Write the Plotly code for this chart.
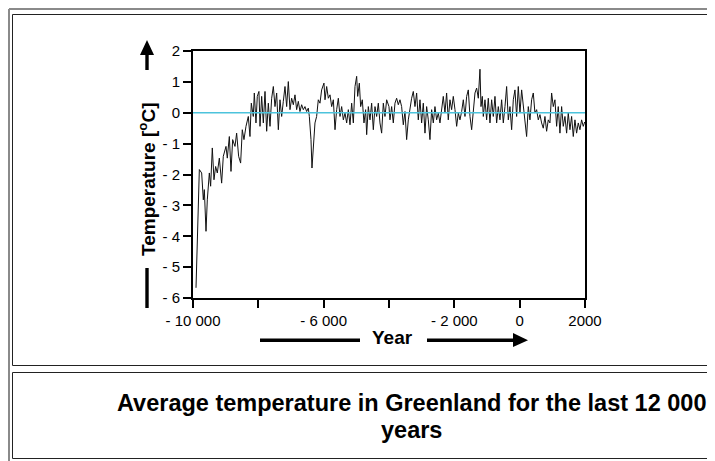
import plotly.graph_objects as go

# ---- data ----
years = [
    -9908, -9868, -9806, -9735, -9684, -9653, -9602, -9562, -9500, -9460,
    -9409, -9358, -9307, -9256, -9194, -9123, -9072, -8990, -8950, -8888,
    -8837, -8786, -8715, -8664, -8603, -8542, -8491, -8440, -8378, -8307,
    -8256, -8215, -8154, -8123, -8072, -8032, -7981,
    -7949, -7898, -7847, -7796, -7745, -7694, -7643, -7592, -7541, -7490,
    -7439, -7388, -7337, -7286, -7235, -7184, -7133, -7082, -7031, -6980,
    -6929, -6878, -6827, -6776, -6725, -6674, -6623, -6572, -6521, -6470,
    -6439, -6388, -6358, -6317, -6266, -6215, -6164, -6113, -6062, -5991,
    -5959, -5908, -5857, -5806, -5755, -5704, -5653, -5602, -5551, -5500,
    -5449, -5398, -5347, -5296, -5245, -5194, -5143, -5092, -5041, -4990,
    -4959, -4908, -4868, -4817, -4766, -4715, -4684, -4633, -4582, -4531,
    -4480, -4429, -4378, -4327, -4276, -4225, -4174, -4123, -4072, -4001,
    -3970, -3919, -3868, -3817, -3766, -3715, -3664, -3613, -3562, -3511,
    -3460, -3409, -3358, -3307, -3256, -3205, -3154, -3103, -3052, -3001,
    -2950, -2899, -2848, -2797, -2746, -2695, -2644, -2593, -2542, -2491,
    -2440, -2389, -2338, -2287, -2236, -2185, -2134, -2083, -2032,
    -1980, -1929, -1878, -1827, -1776, -1725, -1674, -1623, -1572, -1521,
    -1470, -1419, -1368, -1317, -1266, -1215, -1184, -1144, -1113, -1062,
    -1011, -960, -909, -858, -807, -756, -705, -654, -603, -552,
    -501, -450, -399, -348, -297, -246, -195, -144, -93, -42,
    9, 60, 111, 162, 213, 264, 315, 366, 417, 468,
    519, 570, 621, 672, 723, 774, 825, 876, 927, 978,
    1029, 1080, 1131, 1182, 1233, 1284, 1335, 1386, 1437, 1488,
    1539, 1590, 1641, 1692, 1743, 1794, 1845, 1896, 1947, 1990,
]
temps = [
    -5.67, -4.38, -1.84, -1.95, -2.82, -2.49, -3.84, -2.82, -1.95, -2.38,
    -1.14, -2.17, -1.74, -1.95, -1.47, -2.28, -1.41, -1.09, -1.47, -0.77,
    -1.90, -0.87, -1.09, -0.66, -1.41, -1.63, -0.55, -0.87, -0.44, -0.12,
    -0.77, 0.31, -0.12, 0.64, -0.33, 0.53, 0.69,
    -0.44, 0.53, -0.33, 0.69, -0.60, 0.31, -0.44, 0.47, 0.85, 0.20,
    0.64, -0.55, 0.42, -0.12, 0.37, 0.85, 0.20, 1.01, 0.10, 0.47,
    0.26, 0.58, 0.10, 0.37, 0.04, 0.26, 0.10, 0.20, 0.04, 0.15,
    -0.12, -0.87, -1.79, -1.09, -0.33, -0.12, 0.42, 0.31, 0.74, 0.96,
    0.42, 0.85, 0.47, 0.58, 0.20, 0.42, -0.55, 0.10, 0.47, -0.12,
    0.20, -0.23, -0.01, -0.33, 0.10, -0.39, 0.31, -0.33, 0.85, 1.18,
    0.53, 0.96, 0.20, 0.42, -0.33, 0.10, -0.71, 0.20, -0.23, 0.31,
    -0.55, 0.20, -0.12, 0.31, -0.33, -0.66, 0.31, -0.12, 0.42, 0.20,
    -0.23, 0.20, -0.33, 0.31, 0.47, 0.26, 0.42, 0.20, -0.39, 0.04,
    -0.87, -0.23, 0.20, 0.47, 0.69, 0.20, 0.64, -0.23, 0.42, -0.33,
    0.31, -0.66, 0.20, -0.23, -0.87, 0.10, -0.33, 0.20, -0.23, -0.01,
    -0.33, 0.15, 0.53, -0.01, 0.64, -0.23, 0.42, 0.10, 0.53,
    0.10, -0.44, -0.01, -0.23, 0.04, 0.42, -0.12, 0.53, 0.74, -0.12,
    -0.55, 0.10, 0.64, 0.80, 0.47, 1.41, 0.20, 0.53, -0.12, 0.42,
    -0.23, 0.47, -0.33, 0.42, -0.12, 0.53, -0.33, 0.20, -0.23, 0.42,
    -0.33, 0.20, 0.85, -0.23, 0.20, -0.55, 0.42, 0.74, -0.12, 0.85,
    -0.01, 0.74, 0.20, -0.23, -0.77, 0.20, -0.23, 0.42, 0.64, -0.01,
    0.10, -0.23, -0.06, -0.33, -0.50, -0.12, -0.60, -0.23, -0.33, 0.64,
    0.20, 0.42, -0.44, 0.20, -0.66, 0.20, -0.44, -0.12, -0.66, -0.01,
    -0.55, -0.12, -0.77, -0.23, -0.66, -0.33, -0.55, -0.23, -0.44, -0.30,
]

x_tick_vals = [-10000, -6000, -2000, 0, 2000]
x_tick_text = ["- 10 000", "- 6 000", "- 2 000", "0", "2000"]
x_minor_tick_vals = [-8000, -4000]
y_tick_vals = [2, 1, 0, -1, -2, -3, -4, -5, -6]
y_tick_text = ["2", "1", "0", "- 1", "- 2", "- 3", "- 4", "- 5", "- 6"]

y_title = "Temperature [<sup>o</sup>C]"
x_title = "Year"
caption_lines = ["Average temperature in Greenland for the last 12 000", "years"]

# ---- layout geometry (page pixels; the page body adds an 8px margin) ----
PAGE_W, PAGE_H = 715, 461
OFF = 8
L, R, T, B = 193, 585, 51, 298
FONT = "Liberation Sans, Arial, sans-serif"


def px(x):
    return (x - L) / (R - L)


def py(y):
    return (B - y) / (B - T)


fig = go.Figure()
fig.add_trace(go.Scatter(x=years, y=temps, mode="lines",
                         line=dict(color="#111111", width=1),
                         hoverinfo="skip", showlegend=False))

shapes = []
# outer grey frame (left + top)
shapes.append(dict(type="line", xref="paper", yref="paper",
                   x0=px(9), x1=px(760), y0=py(9), y1=py(9),
                   line=dict(color="#8a8a8a", width=2)))
shapes.append(dict(type="line", xref="paper", yref="paper",
                   x0=px(9), x1=px(9), y0=py(9), y1=py(480),
                   line=dict(color="#8a8a8a", width=2)))
# inner cells
shapes.append(dict(type="rect", xref="paper", yref="paper",
                   x0=px(12.5), x1=px(760), y0=py(14.5), y1=py(365.5),
                   line=dict(color="#222222", width=1)))
shapes.append(dict(type="rect", xref="paper", yref="paper",
                   x0=px(12.5), x1=px(760), y0=py(372.5), y1=py(458.5),
                   line=dict(color="#222222", width=1)))
# zero line
shapes.append(dict(type="line", xref="x", yref="y", x0=-10000, x1=2000, y0=0, y1=0,
                   line=dict(color="#4cc3dc", width=1.5), layer="above"))


def rect_path(x0, y0, x1, y1):
    return (f"M {px(x0)} {py(y0)} L {px(x1)} {py(y0)} L {px(x1)} {py(y1)} "
            f"L {px(x0)} {py(y1)} Z")


def tri_path(p):
    return "M " + " L ".join(f"{px(a)} {py(b)}" for a, b in p) + " Z"


deco = dict(type="path", xref="paper", yref="paper",
            fillcolor="black", line=dict(color="black", width=0))
# y arrow up
shapes.append(dict(deco, path=tri_path([(147, 40), (140, 55), (154, 55)])))
shapes.append(dict(deco, path=rect_path(145.3, 54, 148.7, 70)))
# y line below
shapes.append(dict(deco, path=rect_path(145.3, 268, 148.7, 308)))
# x line left of Year
shapes.append(dict(deco, path=rect_path(260, 338.5, 360, 342)))
# x arrow right of Year
shapes.append(dict(deco, path=rect_path(427, 338.5, 515, 342)))
shapes.append(dict(deco, path=tri_path([(513, 333), (513, 347), (528, 340.2)])))

annotations = [
    dict(text=f"<b>{y_title}</b>", xref="paper", yref="paper",
         x=px(147), y=py(180), textangle=-90, showarrow=False,
         xanchor="center", yanchor="middle",
         font=dict(family=FONT, size=19, color="black")),
    dict(text=f"<b>{x_title}</b>", xref="paper", yref="paper",
         x=px(392), y=py(337), showarrow=False,
         xanchor="center", yanchor="middle",
         font=dict(family=FONT, size=19, color="black")),
    dict(text=f"<b>{caption_lines[0]}</b>", xref="paper", yref="paper",
         x=px(411), y=py(403), showarrow=False,
         xanchor="center", yanchor="middle",
         font=dict(family=FONT, size=23.5, color="black")),
    dict(text=f"<b>{caption_lines[1]}</b>", xref="paper", yref="paper",
         x=px(411), y=py(430), showarrow=False,
         xanchor="center", yanchor="middle",
         font=dict(family=FONT, size=23.5, color="black")),
]

axis_common = dict(showgrid=False, zeroline=False, showline=True, mirror=True,
                   linecolor="black", linewidth=2, ticks="outside", ticklen=8,
                   tickwidth=2, tickcolor="black",
                   tickfont=dict(family=FONT, size=15, color="black"))

fig.update_layout(
    width=PAGE_W - OFF, height=PAGE_H - OFF,
    margin=dict(l=L - OFF, r=PAGE_W - R, t=T - OFF, b=PAGE_H - B, pad=0),
    paper_bgcolor="white", plot_bgcolor="white",
    xaxis=dict(axis_common, range=[-10000, 2000], tickvals=x_tick_vals,
               ticktext=x_tick_text,
               minor=dict(tickvals=x_minor_tick_vals, ticks="outside",
                          ticklen=8, tickwidth=2, tickcolor="black",
                          showgrid=False)),
    yaxis=dict(axis_common, range=[-6, 2], tickvals=y_tick_vals,
               ticktext=y_tick_text),
    shapes=shapes, annotations=annotations, showlegend=False,
)

fig.write_html("out.html", config={"displayModeBar": False})
